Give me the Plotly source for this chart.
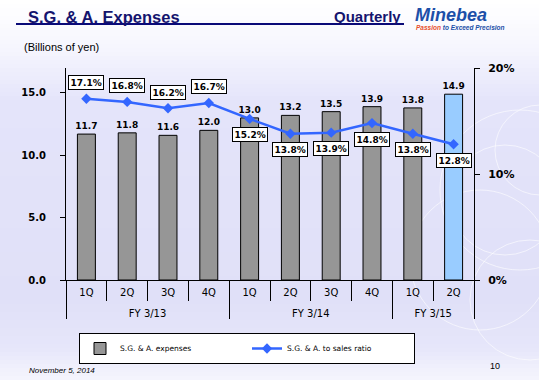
import plotly.graph_objects as go

fiscal_years = ["FY 3/13"] * 4 + ["FY 3/14"] * 4 + ["FY 3/15"] * 2
quarters = ["1Q", "2Q", "3Q", "4Q", "1Q", "2Q", "3Q", "4Q", "1Q", "2Q"]
sga_expenses = [11.7, 11.8, 11.6, 12.0, 13.0, 13.2, 13.5, 13.9, 13.8, 14.9]
sga_ratio = [17.1, 16.8, 16.2, 16.7, 15.2, 13.8, 13.9, 14.8, 13.8, 12.8]
left_ticks = [0, 5, 10, 15]
right_ticks = [0, 10, 20]

W, H = 539, 380
L, R, T, B = 66, 65, 68, 100
PW, PH = W - L - R, H - T - B

def px_x(x):
    return (x - L) / PW

def px_y(y):
    return (H - B - y) / PH

n = len(quarters)
pos = list(range(n))
# group positions derived from the fiscal-year list
groups = []
for i, fy in enumerate(fiscal_years):
    if not groups or groups[-1][0] != fy:
        groups.append([fy, i, i])
    else:
        groups[-1][2] = i
group_centers = [(a + b) / 2 for _, a, b in groups]
group_names = [g[0] for g in groups]
group_bounds = [groups[0][1] - 0.5] + [b + 0.5 for _, _, b in groups]
quarter_bounds = [i + 0.5 for i in range(n - 1)]

bar_colors = ["#969696"] * (n - 1) + ["#99ccff"]

fig = go.Figure()

# background gradient
stops = [(0, (255, 255, 255)), (45, (246, 246, 254)), (100, (228, 228, 250)),
         (300, (224, 224, 248)), (345, (230, 230, 250)), (380, (246, 246, 253))]
shapes = []
step = 4
for y in range(0, H, step):
    for (y0, c0), (y1, c1) in zip(stops[:-1], stops[1:]):
        if y0 <= y <= y1:
            t = (y - y0) / (y1 - y0) if y1 > y0 else 0
            c = tuple(round(a + (b - a) * t) for a, b in zip(c0, c1))
            break
    shapes.append(dict(type="rect", xref="paper", yref="paper", layer="below",
                       x0=px_x(0), x1=px_x(W), y0=px_y(y + step), y1=px_y(y),
                       fillcolor="rgb(%d,%d,%d)" % c, line=dict(width=0)))

# faint decorative circles
for cx, cy, r in [(520, 190, 80), (505, 200, 55), (540, 150, 45), (480, 260, 70), (530, 300, 60)]:
    shapes.append(dict(type="circle", xref="paper", yref="paper", layer="below",
                       x0=px_x(cx - r), x1=px_x(cx + r), y0=px_y(cy + r), y1=px_y(cy - r),
                       line=dict(color="rgba(255,255,255,0.6)", width=1)))

# title underline
shapes.append(dict(type="line", xref="paper", yref="paper",
                   x0=px_x(16), x1=px_x(404), y0=px_y(24), y1=px_y(24),
                   line=dict(color="#0a0a78", width=2)))

fig.add_trace(go.Bar(
    x=pos, y=sga_expenses, name="S.G. & A. expenses",
    marker=dict(color=bar_colors, line=dict(color="black", width=1)),
    width=0.44,
    text=["%.1f" % v for v in sga_expenses], textposition="outside",
    constraintext="none",
    textfont=dict(family="DejaVu Sans", size=9, color="black", weight="bold"),
    cliponaxis=False,
))
fig.add_trace(go.Scatter(
    x=pos, y=sga_ratio, name="S.G. & A. to sales ratio",
    xaxis="x2", yaxis="y2", mode="lines+markers",
    line=dict(color="#3366ff", width=2.5),
    marker=dict(symbol="diamond", size=8, color="#3366ff"),
    cliponaxis=False,
))

annotations = []
for i, v in enumerate(sga_ratio):
    above = i < 4
    annotations.append(dict(
        x=i, y=v, xref="x", yref="y2", text="%.1f%%" % v, showarrow=False,
        yshift=16 if above else -16,
        font=dict(family="DejaVu Sans", size=9, color="black", weight="bold"),
        bgcolor="white", bordercolor="black", borderwidth=1, borderpad=1.5,
    ))

annotations += [
    dict(x=px_x(26), y=px_y(17), xref="paper", yref="paper", xanchor="left", yanchor="middle",
         text="<b>S.G. &amp; A. Expenses</b>", showarrow=False,
         font=dict(family="Liberation Sans", size=16.5, color="#14146e")),
    dict(x=px_x(403), y=px_y(16), xref="paper", yref="paper", xanchor="right", yanchor="middle",
         text="<b>Quarterly</b>", showarrow=False,
         font=dict(family="Liberation Sans", size=15, color="#14146e")),
    dict(x=px_x(413), y=px_y(15), xref="paper", yref="paper", xanchor="left", yanchor="middle",
         text="<b><i>Minebea</i></b>", showarrow=False,
         font=dict(family="Liberation Sans", size=18, color="#1c4fa8")),
    dict(x=px_x(414), y=px_y(27.5), xref="paper", yref="paper", xanchor="left", yanchor="middle",
         text="<b><i><span style='color:#e8502c'>Passion</span> to Exceed Precision</i></b>",
         showarrow=False, font=dict(family="Liberation Sans", size=6.5, color="#1c4fa8")),
    dict(x=px_x(22), y=px_y(47), xref="paper", yref="paper", xanchor="left", yanchor="middle",
         text="(Billions of yen)", showarrow=False,
         font=dict(family="Liberation Sans", size=11, color="black")),
    dict(x=px_x(27), y=px_y(370), xref="paper", yref="paper", xanchor="left", yanchor="middle",
         text="<i>November 5, 2014</i>", showarrow=False,
         font=dict(family="Liberation Sans", size=8, color="black")),
    dict(x=px_x(502), y=px_y(366), xref="paper", yref="paper", xanchor="right", yanchor="middle",
         text="10", showarrow=False,
         font=dict(family="Liberation Sans", size=9, color="black")),
]

xrange = [-0.5, n - 0.5]
fig.update_layout(
    width=W, height=H,
    margin=dict(l=L, r=R, t=T, b=B, autoexpand=False),
    paper_bgcolor="#e2e2f9", plot_bgcolor="rgba(0,0,0,0)",
    showlegend=True,
    legend=dict(orientation="h", x=px_x(247), xanchor="center", y=px_y(333), yanchor="top",
                bgcolor="white", bordercolor="black", borderwidth=1,
                font=dict(family="DejaVu Sans", size=7.5, color="black"),
                entrywidth=122, itemwidth=30, tracegroupgap=0),
    xaxis=dict(range=xrange, tickmode="array", tickvals=pos, ticktext=quarters,
               showline=True, linecolor="black", linewidth=1,
               ticks="outside", ticklen=0, tickcolor="black",
               minor=dict(tickmode="array", tickvals=quarter_bounds, ticks="outside",
                          ticklen=20, tickcolor="black", tickwidth=1, showgrid=False),
               tickfont=dict(family="DejaVu Sans", size=10, color="black"),
               ticklabelstandoff=3,
               showgrid=False, zeroline=False, automargin=False, fixedrange=True),
    xaxis2=dict(range=xrange, overlaying="x", side="bottom", anchor="y",
                tickmode="array", tickvals=group_centers, ticktext=group_names,
                showline=False, ticks="outside", ticklen=0, tickcolor="black",
                minor=dict(tickmode="array", tickvals=group_bounds, ticks="outside",
                           ticklen=38, tickcolor="black", tickwidth=1, showgrid=False),
                tickfont=dict(family="DejaVu Sans", size=10, color="black"),
                ticklabelstandoff=24,
                showgrid=False, zeroline=False, automargin=False, fixedrange=True),
    yaxis=dict(range=[0, 17], tickvals=left_ticks, tickformat=".1f",
               showline=True, linecolor="black", linewidth=1, ticks="outside", ticklen=5,
               tickcolor="black", showgrid=False, zeroline=False, ticklabelstandoff=12,
               automargin=False,
               tickfont=dict(family="DejaVu Sans", size=10, color="black", weight="bold")),
    yaxis2=dict(range=[0, 20], tickvals=right_ticks, ticktext=["%d%%" % v for v in right_ticks],
                overlaying="y", side="right", anchor="x",
                showline=True, linecolor="black", linewidth=1, ticks="outside", ticklen=5,
                tickcolor="black", showgrid=False, zeroline=False, ticklabelstandoff=6,
                automargin=False,
                tickfont=dict(family="DejaVu Sans", size=11, color="black", weight="bold")),
    shapes=shapes, annotations=annotations,
)

fig.write_html("out.html", config={"displayModeBar": False},
               post_script="document.body.style.margin='0';document.body.style.padding='0';"
                           "document.documentElement.style.overflow='hidden';")
